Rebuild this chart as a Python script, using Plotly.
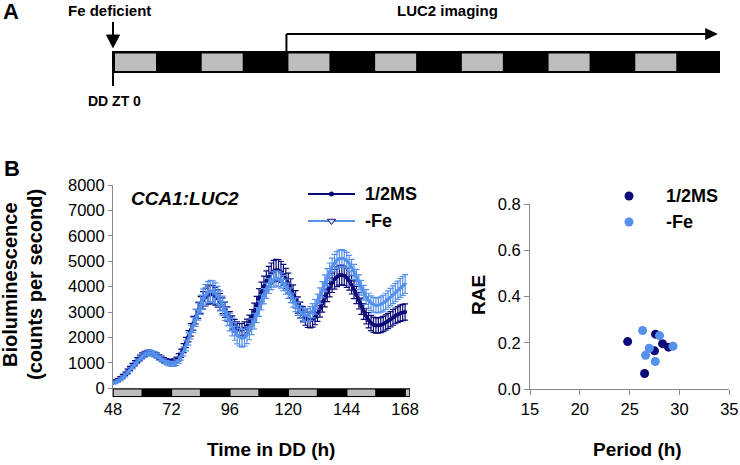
import plotly.graph_objects as go

W, H = 740, 465

# ---------------- data ----------------
hours = list(range(48, 169))
ms_mean = [250, 280, 330, 400, 480, 570, 670, 780, 890, 1000,
           1110, 1210, 1290, 1350, 1390, 1400, 1380, 1340, 1290, 1230,
           1170, 1110, 1070, 1040, 1030, 1050, 1110, 1220, 1380, 1580,
           1800, 2050, 2300, 2560, 2820, 3060, 3280, 3460, 3590, 3670,
           3700, 3680, 3620, 3530, 3400, 3250, 3090, 2920, 2750, 2590,
           2460, 2360, 2300, 2300, 2350, 2450, 2600, 2800, 3030, 3280,
           3560, 3800, 4020, 4220, 4390, 4520, 4610, 4650, 4640, 4580,
           4470, 4320, 4140, 3940, 3720, 3500, 3280, 3080, 2910, 2780,
           2700, 2680, 2710, 2800, 2940, 3120, 3330, 3550, 3770, 3970,
           4150, 4290, 4390, 4450, 4460, 4430, 4350, 4230, 4070, 3880,
           3670, 3450, 3230, 3020, 2830, 2680, 2570, 2500, 2470, 2470,
           2490, 2530, 2590, 2650, 2720, 2790, 2850, 2900, 2950, 2980,
           3000]
ms_err = [50, 50, 60, 60, 70, 70, 80, 80, 90, 90,
          100, 100, 100, 100, 100, 100, 100, 100, 100, 100,
          100, 100, 100, 100, 100, 110, 120, 140, 160, 180,
          200, 220, 250, 270, 290, 310, 330, 340, 350, 360,
          360, 360, 350, 340, 330, 310, 300, 280, 270, 260,
          250, 250, 250, 250, 260, 270, 280, 300, 320, 340,
          360, 380, 390, 400, 410, 410, 420, 420, 420, 410,
          410, 400, 390, 370, 350, 340, 320, 310, 300, 300,
          300, 300, 300, 300, 310, 320, 330, 350, 360, 370,
          380, 390, 390, 390, 390, 380, 380, 370, 360, 350,
          340, 330, 320, 310, 300, 300, 300, 300, 300, 300,
          300, 300, 300, 300, 300, 310, 310, 310, 320, 320,
          320]
fe_mean = [200, 230, 280, 350, 430, 520, 620, 730, 840, 950,
           1060, 1160, 1250, 1320, 1370, 1390, 1380, 1340, 1280, 1210,
           1140, 1070, 1010, 970, 950, 960, 1010, 1110, 1260, 1450,
           1680, 1940, 2210, 2490, 2770, 3040, 3290, 3500, 3670, 3780,
           3830, 3810, 3740, 3610, 3440, 3250, 3040, 2820, 2610, 2410,
           2240, 2100, 2010, 1970, 2000, 2090, 2230, 2420, 2640, 2880,
           3130, 3380, 3620, 3840, 4030, 4180, 4280, 4320, 4300, 4240,
           4140, 4000, 3840, 3660, 3470, 3290, 3130, 3000, 2910, 2870,
           2880, 2940, 3050, 3210, 3410, 3640, 3880, 4130, 4370, 4590,
           4780, 4930, 5040, 5100, 5120, 5090, 5020, 4910, 4760, 4580,
           4380, 4170, 3960, 3760, 3590, 3450, 3350, 3290, 3270, 3270,
           3300, 3350, 3420, 3500, 3590, 3680, 3770, 3860, 3950, 4030,
           4100]
fe_err = [40, 50, 50, 60, 60, 70, 70, 80, 80, 90,
          90, 100, 100, 100, 100, 100, 100, 100, 100, 100,
          100, 90, 90, 90, 90, 100, 110, 130, 150, 180,
          210, 240, 270, 300, 330, 360, 380, 400, 410, 420,
          420, 420, 410, 400, 390, 380, 370, 360, 350, 350,
          350, 350, 350, 350, 340, 330, 320, 310, 310, 300,
          300, 300, 300, 300, 300, 300, 300, 300, 300, 300,
          300, 300, 300, 290, 280, 270, 260, 250, 250, 250,
          260, 270, 280, 290, 300, 310, 320, 330, 340, 340,
          340, 340, 340, 340, 340, 330, 330, 320, 310, 300,
          300, 290, 290, 290, 290, 290, 290, 290, 290, 300,
          300, 310, 320, 330, 340, 350, 360, 360, 370, 370,
          370]

ms_period = [24.8, 27.5, 26.5, 27.6, 28.3, 28.9]
ms_rae = [0.206, 0.166, 0.068, 0.238, 0.197, 0.182]
fe_period = [26.3, 26.97, 26.6, 27.57, 28.0, 29.35]
fe_rae = [0.254, 0.177, 0.147, 0.120, 0.232, 0.186]

time_ticks = [48, 72, 96, 120, 144, 168]
subjective_day_starts_B = [48, 72, 96, 120, 144, 168]
subjective_day_starts_A = [0, 24, 48, 72, 96, 120, 144]
imaging_start_A = 48

DARK = "#0a0a78"
LIGHT = "#5590ec"
GRAY_BOX = "#bdbdbd"
AXIS_GRAY = "#8a8a8a"
FONT = "Arial, Liberation Sans, sans-serif"

fig = go.Figure()

# ---------------- panel B left: time series ----------------
fig.add_trace(go.Scatter(
    x=hours, y=ms_mean, mode="lines+markers", name="1/2MS",
    line=dict(color=DARK, width=3), marker=dict(symbol="circle", size=4, color=DARK),
    error_y=dict(type="data", array=ms_err, color=DARK, thickness=1.2, width=3),
    xaxis="x", yaxis="y", showlegend=False))
fig.add_trace(go.Scatter(
    x=hours, y=fe_mean, mode="lines+markers", name="-Fe",
    line=dict(color=LIGHT, width=3), marker=dict(symbol="triangle-down", size=4, color=LIGHT),
    error_y=dict(type="data", array=fe_err, color=LIGHT, thickness=1.2, width=3),
    xaxis="x", yaxis="y", showlegend=False))

# ---------------- panel B right: scatter ----------------
fig.add_trace(go.Scatter(x=ms_period, y=ms_rae, mode="markers",
                         marker=dict(size=9, color=DARK), xaxis="x2", yaxis="y2", showlegend=False))
fig.add_trace(go.Scatter(x=fe_period, y=fe_rae, mode="markers",
                         marker=dict(size=9, color=LIGHT), xaxis="x2", yaxis="y2", showlegend=False))

# ---------------- overlay pixel axis (legends) ----------------
fig.add_trace(go.Scatter(x=[308, 355], y=[194, 194], mode="lines", line=dict(color=DARK, width=2),
                         xaxis="x4", yaxis="y4", showlegend=False, hoverinfo="skip"))
fig.add_trace(go.Scatter(x=[331.5], y=[194], mode="markers", marker=dict(symbol="circle", size=5, color=DARK),
                         xaxis="x4", yaxis="y4", showlegend=False, hoverinfo="skip"))
fig.add_trace(go.Scatter(x=[308, 355], y=[221, 221], mode="lines", line=dict(color=LIGHT, width=2),
                         xaxis="x4", yaxis="y4", showlegend=False, hoverinfo="skip"))
fig.add_trace(go.Scatter(x=[331.5], y=[221], mode="markers",
                         marker=dict(symbol="triangle-down", size=7, color="#dfe9fb", line=dict(color=DARK, width=1)),
                         xaxis="x4", yaxis="y4", showlegend=False, hoverinfo="skip"))
fig.add_trace(go.Scatter(x=[629], y=[196], mode="markers", marker=dict(size=9, color=DARK),
                         xaxis="x4", yaxis="y4", showlegend=False, hoverinfo="skip"))
fig.add_trace(go.Scatter(x=[629], y=[222], mode="markers", marker=dict(size=9, color=LIGHT),
                         xaxis="x4", yaxis="y4", showlegend=False, hoverinfo="skip"))
# dummy trace for panel A axis
fig.add_trace(go.Scatter(x=[0], y=[0], mode="markers", marker=dict(size=1, color="rgba(0,0,0,0)"),
                         xaxis="x3", yaxis="y3", showlegend=False, hoverinfo="skip"))

shapes = []
# light/dark bar under the time series
shapes.append(dict(type="rect", xref="x", yref="y", x0=48, x1=170, y0=-355, y1=0,
                   fillcolor="black", line=dict(width=0), layer="above"))
for s in subjective_day_starts_B:
    shapes.append(dict(type="rect", xref="x", yref="y", x0=s + 0.3, x1=min(s + 12, 170) - 0.3,
                       y0=-300, y1=-45, fillcolor=GRAY_BOX, line=dict(width=0), layer="above"))

# panel A diagram (x3 in hours, y3 in pixels)
shapes.append(dict(type="rect", xref="x3", yref="y3", x0=0, x1=168, y0=51, y1=73,
                   fillcolor="black", line=dict(width=0)))
for s in subjective_day_starts_A:
    shapes.append(dict(type="rect", xref="x3", yref="y3", x0=s + 0.55, x1=s + 11.9, y0=53.5, y1=71,
                       fillcolor=GRAY_BOX, line=dict(width=0)))
shapes.append(dict(type="line", xref="x3", yref="y3", x0=0, x1=0, y0=51, y1=86,
                   line=dict(color="black", width=2)))
shapes.append(dict(type="line", xref="x3", yref="y3", x0=0, x1=0, y0=22, y1=36,
                   line=dict(color="black", width=2)))
shapes.append(dict(type="path", xref="x3", yref="y3", path="M -1.8,35 L 1.8,35 L 0,47.5 Z",
                   fillcolor="black", line=dict(color="black", width=1)))
shapes.append(dict(type="line", xref="x3", yref="y3", x0=imaging_start_A, x1=imaging_start_A, y0=34, y1=51,
                   line=dict(color="black", width=2)))
shapes.append(dict(type="line", xref="x3", yref="y3", x0=imaging_start_A, x1=165, y0=34, y1=34,
                   line=dict(color="black", width=2)))
shapes.append(dict(type="path", xref="x3", yref="y3", path="M 163.9,28 L 163.9,40 L 167.4,34 Z",
                   fillcolor="black", line=dict(width=0)))


def txt(x, y, s, size, bold=True, italic=False, angle=0, xanchor="center"):
    t = s
    if bold:
        t = "<b>" + t + "</b>"
    if italic:
        t = "<i>" + t + "</i>"
    return dict(x=x, y=y, xref="x4", yref="y4", text=t, showarrow=False, textangle=angle,
                xanchor=xanchor, yanchor="middle", font=dict(family=FONT, size=size, color="black"))


annotations = [
    txt(11, 11, "A", 22),
    txt(109, 10, "Fe deficient", 15),
    txt(447, 10, "LUC2 imaging", 15),
    txt(114, 101, "DD ZT 0", 14),
    txt(12, 168, "B", 22),
    txt(129, 198, "CCA1:LUC2", 19, italic=True, xanchor="left"),
    txt(363, 194, "1/2MS", 18, xanchor="left"),
    txt(363, 221, "-Fe", 18, xanchor="left"),
    txt(664, 196, "1/2MS", 18, xanchor="left"),
    txt(664, 222, "-Fe", 18, xanchor="left"),
    txt(10, 285, "Bioluminescence", 20, angle=-90),
    txt(35, 285, "(counts per second)", 20, angle=-90),
    txt(271, 449, "Time in DD (h)", 19),
    txt(637, 449, "Period (h)", 19),
    txt(478, 295, "RAE", 19, angle=-90),
]

tickfont = dict(family=FONT, size=16.5, color="black")

# panel A axis: 0 h -> x=113 px, 168 h -> x=720 px, padded 10 px on each side
PX_PER_H = (720 - 113) / 168
A_PAD = 10 / PX_PER_H

fig.update_layout(
    template="none",
    width=W, height=H, margin=dict(l=0, r=0, t=0, b=0, pad=0, autoexpand=False),
    paper_bgcolor="white", plot_bgcolor="rgba(0,0,0,0)",
    showlegend=False, shapes=shapes, annotations=annotations,
    xaxis=dict(domain=[113 / W, 410 / W], range=[48, 170], tickvals=time_ticks, automargin=False,
               showline=False, ticks="", showgrid=False, zeroline=False, tickfont=tickfont),
    yaxis=dict(domain=[1 - 397.3 / H, 1 - 185 / H], range=[-355, 8000], automargin=False,
               tickvals=[0, 1000, 2000, 3000, 4000, 5000, 6000, 7000, 8000],
               ticks="outside", ticklen=4, tickcolor=AXIS_GRAY, showline=True, linecolor=AXIS_GRAY,
               linewidth=1, showgrid=False, zeroline=False, tickfont=tickfont),
    xaxis2=dict(domain=[530 / W, 729.3 / W], range=[15, 35], tickvals=[15, 20, 25, 30, 35], automargin=False,
                ticks="outside", ticklen=5, tickcolor=AXIS_GRAY, showline=True, linecolor=AXIS_GRAY,
                showgrid=False, zeroline=False, tickfont=tickfont, anchor="y2"),
    yaxis2=dict(domain=[1 - 389.3 / H, 1 - 204 / H], range=[0, 0.8], tickvals=[0, 0.2, 0.4, 0.6, 0.8],
                automargin=False,
                tickformat=".1f", ticks="outside", ticklen=5, tickcolor=AXIS_GRAY, showline=True,
                linecolor=AXIS_GRAY, showgrid=False, zeroline=False, tickfont=tickfont, anchor="x2"),
    xaxis3=dict(domain=[103 / W, 730 / W], range=[-A_PAD, 168 + A_PAD], visible=False, anchor="y3",
                fixedrange=True, automargin=False),
    yaxis3=dict(domain=[0, 1], range=[H, 0], visible=False, anchor="x3", fixedrange=True, automargin=False),
    xaxis4=dict(domain=[0, 1], range=[0, W], visible=False, anchor="y4", fixedrange=True, automargin=False),
    yaxis4=dict(domain=[0, 1], range=[H, 0], visible=False, anchor="x4", fixedrange=True, automargin=False),
)

fig.write_html("out.html", config={"displayModeBar": False},
               post_script="document.body.style.margin='0px';document.body.style.overflow='hidden';")
